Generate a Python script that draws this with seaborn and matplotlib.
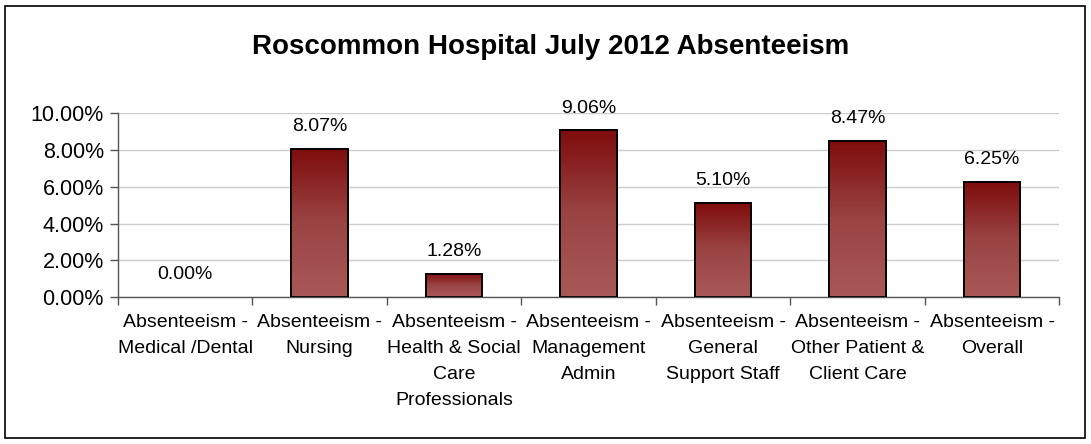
import numpy as np
import pandas as pd
import matplotlib
matplotlib.use("Agg")
import matplotlib.pyplot as plt
from matplotlib.colors import LinearSegmentedColormap
from matplotlib.patches import Rectangle
import seaborn as sns

categories = [
    "Absenteeism -\nMedical /Dental",
    "Absenteeism -\nNursing",
    "Absenteeism -\nHealth & Social\nCare\nProfessionals",
    "Absenteeism -\nManagement\nAdmin",
    "Absenteeism -\nGeneral\nSupport Staff",
    "Absenteeism -\nOther Patient &\nClient Care",
    "Absenteeism -\nOverall",
]
values = [0.0, 8.07, 1.28, 9.06, 5.10, 8.47, 6.25]
value_labels = ["0.00%", "8.07%", "1.28%", "9.06%", "5.10%", "8.47%", "6.25%"]
yticks = [0, 2, 4, 6, 8, 10]
ytick_labels = ["0.00%", "2.00%", "4.00%", "6.00%", "8.00%", "10.00%"]
title = "Roscommon Hospital July 2012 Absenteeism"

sns.set_theme(style="white")
plt.rcParams["font.family"] = ["Liberation Sans", "DejaVu Sans"]
plt.rcParams["text.color"] = "black"
plt.rcParams["xtick.color"] = "black"
plt.rcParams["ytick.color"] = "black"

df = pd.DataFrame({"cat": categories, "val": values})

fig = plt.figure(figsize=(10.91, 4.44), dpi=100)
ax = fig.add_axes([0.108, 0.331, 0.863, 0.414])

sns.barplot(data=df, x="cat", y="val", ax=ax, color="#a85555",
            width=0.42, edgecolor="black", linewidth=1.3, zorder=3)

ax.set_ylim(0, 10)
ax.set_xlim(-0.5, len(categories) - 0.5)

# gradient fill for each bar
cmap = LinearSegmentedColormap.from_list("grad", ["#a95858", "#9a4444", "#7f0c0c"])
grad = np.linspace(0, 1, 256).reshape(-1, 1)
for p in list(ax.patches):
    h = p.get_height()
    if h <= 0:
        p.set_visible(False)
        continue
    x0 = p.get_x()
    w = p.get_width()
    im = ax.imshow(grad, cmap=cmap, origin="lower", aspect="auto",
                   extent=(x0, x0 + w, 0, h), zorder=3.5)
    im.set_clip_path(p)
    edge = Rectangle((x0, 0), w, h, fill=False, edgecolor="black",
                     linewidth=1.3, zorder=4)
    ax.add_patch(edge)

ax.set_ylim(0, 10)
ax.set_xlim(-0.5, len(categories) - 0.5)

# value labels
for i, (v, lab) in enumerate(zip(values, value_labels)):
    ax.annotate(lab, (i, v), xytext=(0, 10), textcoords="offset points",
                ha="center", va="bottom", fontsize=14, color="black")

# gridlines
ax.set_yticks(yticks)
ax.set_yticklabels(ytick_labels, fontsize=15.5)
ax.yaxis.grid(True, color="#cccccc", linewidth=1.0, zorder=0)
ax.set_axisbelow(True)

ax.set_xticks(range(len(categories)))
ax.set_xticklabels(categories, fontsize=14, linespacing=1.7)
ax.set_xticks(np.arange(-0.5, len(categories), 1.0), minor=True)
ax.tick_params(axis="x", which="major", length=0, pad=12)
ax.tick_params(axis="x", which="minor", length=6, width=1, color="#555555",
               direction="out", bottom=True)
ax.tick_params(axis="y", which="major", length=6, width=1, color="#555555",
               direction="out", left=True, pad=4)

ax.set_xlabel("")
ax.set_ylabel("")

for s in ["top", "right"]:
    ax.spines[s].set_visible(False)
ax.spines["left"].set_color("#555555")
ax.spines["bottom"].set_color("#555555")
ax.spines["left"].set_linewidth(1)
ax.spines["bottom"].set_linewidth(1)

fig.text(0.505, 0.895, title, ha="center", va="center", fontsize=20,
         fontweight="bold", color="black")

# outer frame
fig.patches.append(Rectangle((5 / 1091, 6 / 444), 1080 / 1091, 432 / 444,
                             transform=fig.transFigure, fill=False,
                             edgecolor="black", linewidth=1.2))

fig.savefig("out.png", dpi=100, facecolor="white")
